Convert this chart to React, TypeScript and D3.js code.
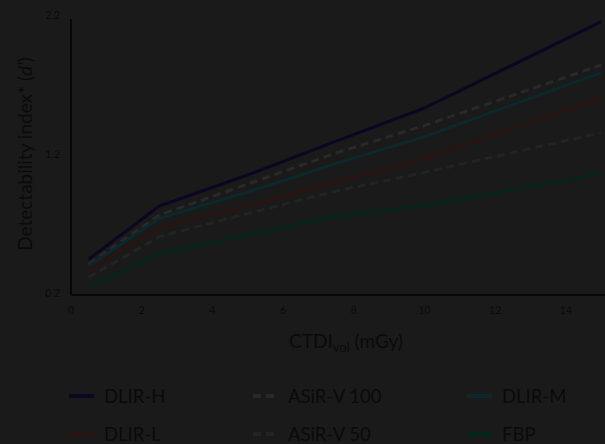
import React from "react";
import * as d3 from "d3";

const W = 605;
const H = 444;

const doses = [0.5, 2.5, 5, 7.5, 10, 15];
const xTicks = [0, 2, 4, 6, 8, 10, 12, 14];
const yTicks = [0.2, 1.2, 2.2];

const seriesNames = ["DLIR-H", "ASiR-V 100", "DLIR-M", "DLIR-L", "ASiR-V 50", "FBP"];
const dlirH = [0.454, 0.838, 1.061, 1.306, 1.544, 2.166];
const asir100 = [0.42, 0.773, 0.996, 1.22, 1.418, 1.854];
const dlirM = [0.405, 0.749, 0.939, 1.144, 1.338, 1.799];
const dlirL = [0.382, 0.684, 0.838, 1.011, 1.18, 1.611];
const asir50 = [0.324, 0.617, 0.784, 0.946, 1.08, 1.366];
const fbp = [0.256, 0.492, 0.629, 0.766, 0.84, 1.071];

const seriesValues = [dlirH, asir100, dlirM, dlirL, asir50, fbp];
const seriesColors = ["#0d0522", "#292929", "#0d282c", "#291411", "#232323", "#05241a"];
const seriesDashed = [false, true, false, false, true, false];

const x = d3.scaleLinear().domain([0, 16]).range([71, 636.6]);
const y = d3.scaleLinear().domain([0.2, 2.2]).range([294.5, 17]);

const line = d3
  .line<[number, number]>()
  .x((d) => x(d[0]))
  .y((d) => y(d[1]));

const TEXT = "#0a0a0a";
const FONT = "Lato, 'Open Sans', sans-serif";

const legendCols = [69, 253, 467];
const legendRows = [396, 434];

export default function App() {
  return (
    <svg
      width={W}
      height={H}
      style={{ position: "absolute", left: 0, top: 0, display: "block" }}
      fontFamily={FONT}
    >
      <rect x={0} y={0} width={W} height={H} fill="#1a1a1a" />

      {seriesValues.map((vals, i) => (
        <path
          key={seriesNames[i]}
          d={line(doses.map((d, j) => [d, vals[j]] as [number, number])) || ""}
          fill="none"
          stroke={seriesColors[i]}
          strokeWidth={3}
          strokeDasharray={seriesDashed[i] ? "8,5" : undefined}
          strokeLinejoin="round"
        />
      ))}

      <line x1={x(0)} x2={x(0)} y1={y(2.2) + 2} y2={295} stroke="#070707" strokeWidth={2} />
      <line x1={x(0)} x2={W} y1={295} y2={295} stroke="#070707" strokeWidth={2} />

      {yTicks.map((t) => (
        <text
          key={t}
          x={60}
          y={y(t) - 2}
          textAnchor="end"
          dominantBaseline="central"
          fontSize={10.5}
          fill={TEXT}
        >
          {t.toFixed(1)}
        </text>
      ))}
      {xTicks.map((t) => (
        <text
          key={t}
          x={x(t)}
          y={310}
          textAnchor="middle"
          dominantBaseline="central"
          fontSize={10.5}
          fill={TEXT}
        >
          {t}
        </text>
      ))}

      <text
        transform={`translate(32,154) rotate(-90)`}
        textAnchor="middle"
        fontSize={19}
        fill={TEXT}
      >
        Detectability index* (<tspan fontStyle="italic">d'</tspan>)
      </text>
      <text x={346} y={348} textAnchor="middle" fontSize={19} fill={TEXT}>
        CTDI
        <tspan fontSize={13} dy={4}>vol</tspan>
        <tspan dy={-4}> (mGy)</tspan>
      </text>

      {seriesNames.map((name, i) => {
        const col = i % 3;
        const row = Math.floor(i / 3);
        const lx = legendCols[col];
        const ly = legendRows[row];
        return (
          <g key={name}>
            <line
              x1={lx}
              x2={lx + 25}
              y1={ly}
              y2={ly}
              stroke={seriesColors[i]}
              strokeWidth={4}
              strokeDasharray={seriesDashed[i] ? "8,5" : undefined}
            />
            <text
              x={lx + 35}
              y={ly}
              dominantBaseline="central"
              fontSize={18.5}
              fill={TEXT}
            >
              {name}
            </text>
          </g>
        );
      })}
    </svg>
  );
}
